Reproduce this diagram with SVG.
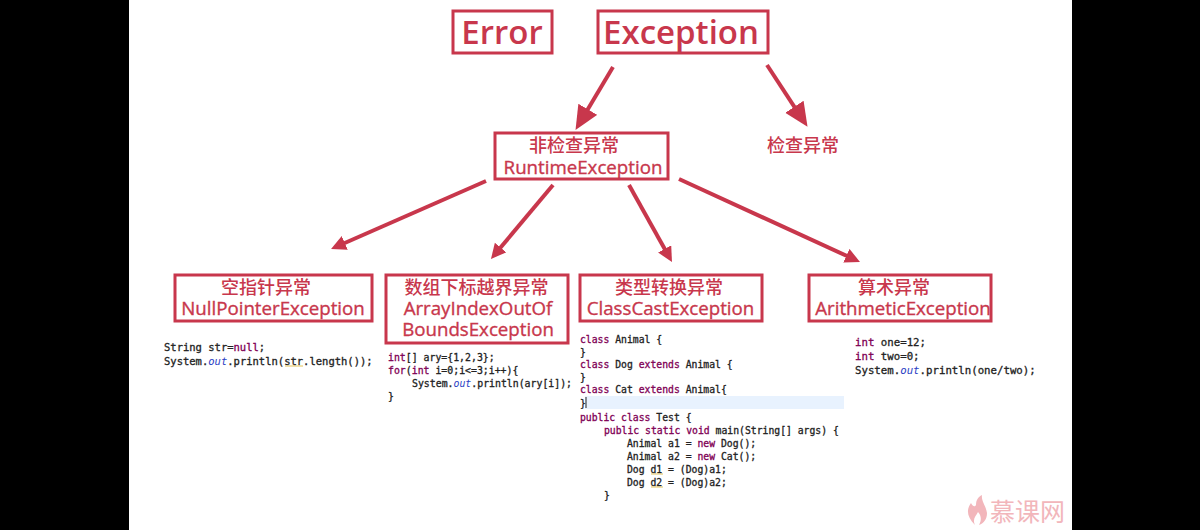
<svg xmlns="http://www.w3.org/2000/svg" width="1200" height="530" viewBox="0 0 1200 530">
<style>
.box{fill:none;stroke:#c8374c;stroke-width:3}
.t{font-family:"Open Sans","Noto Sans CJK SC","Noto Sans",sans-serif;fill:#c8374c;text-anchor:middle;font-weight:500}
.b{font-size:33px;font-weight:600}
.z{font-size:18px;font-family:"Noto Sans CJK SC",sans-serif}
.l{font-size:18.7px;stroke:#c8374c;stroke-width:.35}
.c{font-family:"DejaVu Sans Mono","Liberation Mono",monospace;fill:#222;white-space:pre;stroke:#222;stroke-width:.3}
.s1{font-size:10.5px}
.s2{font-size:9.85px}
.s3{font-size:9.75px}
.s4{font-size:10.72px}
.k{fill:#7f0055;stroke:#7f0055}
.o{fill:#2a40c4;stroke:none;font-style:italic}
.a{stroke:#c8374c;stroke-width:4;fill:none}
.u{stroke:#e3c35a;stroke-width:1;fill:none}
</style>
<defs>
<marker id="big" markerUnits="userSpaceOnUse" markerWidth="26" markerHeight="24" refX="9" refY="11" orient="auto"><path d="M0 0L24 11L0 22z" fill="#c8374c"/></marker>
<marker id="small" markerUnits="userSpaceOnUse" markerWidth="18" markerHeight="18" refX="5" refY="7.5" orient="auto"><path d="M0 0L15 7.5L0 15z" fill="#c8374c"/></marker>
</defs>
<rect width="1200" height="530" fill="#fff"/>
<rect width="129" height="530" fill="#000"/>
<rect x="1072" width="128" height="530" fill="#000"/>

<g id="connectors">
<path class="a" marker-end="url(#big)" d="M613 67L583.2 117"/>
<path class="a" marker-end="url(#big)" d="M767 65L799.3 114.3"/>
<path class="a" marker-end="url(#small)" d="M486 181L340.2 245"/>
<path class="a" marker-end="url(#small)" d="M553 185L497.4 251.3"/>
<path class="a" marker-end="url(#small)" d="M629 185L667.1 253.3"/>
<path class="a" marker-end="url(#small)" d="M679 179L850.9 257.8"/>
</g>

<g id="error"><rect class="box" x="453" y="11" width="99" height="42"/><text class="t b" x="502" y="44">Error</text></g>
<g id="exception"><rect class="box" x="598" y="11" width="170" height="42"/><text class="t b" x="681" y="44">Exception</text></g>
<g id="runtime"><rect class="box" x="495" y="133" width="173" height="46"/><text class="t z" x="574" y="152">非检查异常</text><text class="t l" x="583" y="174">RuntimeException</text></g>
<g id="checked"><text class="t z" x="803" y="152">检查异常</text></g>

<g id="nullpointer"><rect class="box" x="175" y="275" width="197" height="46"/><text class="t z" x="266" y="294">空指针异常</text><text class="t l" x="273" y="315">NullPointerException</text>
<g class="s1"><text class="c" x="164" y="351">String str=<tspan class="k">null</tspan>;</text>
<text class="c" x="164" y="365">System.<tspan class="o">out</tspan>.println(str.length());</text></g>
<path class="u" d="M285 366H303"/></g>

<g id="arrayindex"><rect class="box" x="386" y="275" width="182" height="68"/><text class="t z" x="476.5" y="294">数组下标越界异常</text><text class="t l" x="478" y="315">ArrayIndexOutOf</text><text class="t l" x="478" y="336">BoundsException</text>
<g class="s2"><text class="c" x="388" y="361"><tspan class="k">int</tspan>[] ary={1,2,3};</text>
<text class="c" x="388" y="374"><tspan class="k">for</tspan>(<tspan class="k">int</tspan> i=0;i&lt;=3;i++){</text>
<text class="c" x="412" y="387">System.<tspan class="o">out</tspan>.println(ary[i]);</text>
<text class="c" x="388" y="400">}</text></g></g>

<g id="classcast"><rect class="box" x="580" y="275" width="182" height="46"/><text class="t z" x="669" y="294">类型转换异常</text><text class="t l" x="670.5" y="315">ClassCastException</text>
<rect x="585" y="396" width="259" height="13" fill="#e8f2fe"/>
<path d="M586 397V408" stroke="#222" stroke-width="1"/>
<g class="s3"><text class="c" x="580" y="343"><tspan class="k">class</tspan> Animal {</text>
<text class="c" x="580" y="356">}</text>
<text class="c" x="580" y="368"><tspan class="k">class</tspan> Dog <tspan class="k">extends</tspan> Animal {</text>
<text class="c" x="580" y="381">}</text>
<text class="c" x="580" y="393"><tspan class="k">class</tspan> Cat <tspan class="k">extends</tspan> Animal{</text>
<text class="c" x="580" y="407">}</text>
<text class="c" x="580" y="421"><tspan class="k">public</tspan> <tspan class="k">class</tspan> Test {</text>
<text class="c" x="604" y="434"><tspan class="k">public</tspan> <tspan class="k">static</tspan> <tspan class="k">void</tspan> main(String[] args) {</text>
<text class="c" x="627" y="447">Animal a1 = <tspan class="k">new</tspan> Dog();</text>
<text class="c" x="627" y="460">Animal a2 = <tspan class="k">new</tspan> Cat();</text>
<text class="c" x="627" y="473">Dog d1 = (Dog)a1;</text>
<text class="c" x="627" y="486">Dog d2 = (Dog)a2;</text>
<text class="c" x="604" y="499">}</text></g>
<path class="u" d="M651 474H663M651 487H663"/></g>

<g id="arithmetic"><rect class="box" x="809" y="275" width="182" height="46"/><text class="t z" x="894" y="294">算术异常</text><text class="t l" x="903" y="315">ArithmeticException</text>
<g class="s4"><text class="c" x="855" y="346"><tspan class="k">int</tspan> one=12;</text>
<text class="c" x="855" y="360"><tspan class="k">int</tspan> two=0;</text>
<text class="c" x="855" y="374">System.<tspan class="o">out</tspan>.println(one/two);</text></g></g>

<g id="logo"><path d="M975 525C967 517 966 510 971 503C973 507 975 507 976 505C976 500 978 497 982 495C981 501 986 506 987 513C987 519 984 523 979 525C982 520 981 515 978 512C976 516 972 519 975 525z" fill="#f2b6bb"/>
<text x="990" y="521" font-family="'Noto Sans CJK SC',sans-serif" font-size="25" fill="#f2b6bb">慕课网</text></g>
</svg>
